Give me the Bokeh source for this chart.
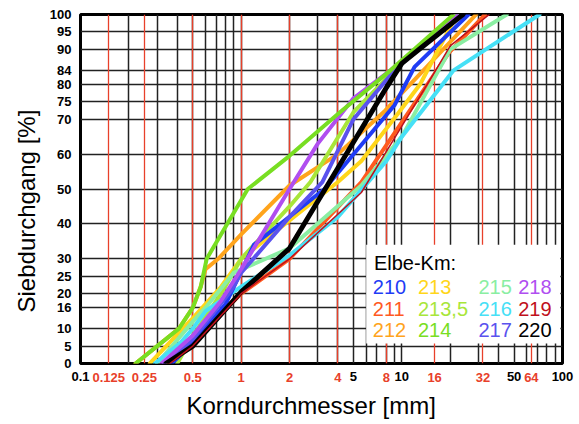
from bokeh.plotting import figure
from bokeh.models import (FixedTicker, Grid, BoxAnnotation, Label, LogAxis, Title,
                          AllLabels, BasicTickFormatter)
from bokeh.embed import file_html
from bokeh.resources import INLINE

# ---------------- data ----------------
y_ticks = [0, 5, 10, 16, 20, 25, 30, 40, 50, 60, 70, 75, 80, 84, 90, 95, 100]
x_black_labels = [0.1, 5, 10, 50, 100]
x_black_grid = [0.2, 0.3, 0.4, 0.5, 0.6, 0.7, 0.8, 0.9, 1, 2, 3, 4, 5, 6, 7, 8, 9,
                10, 20, 30, 40, 50, 60, 70, 80, 90]
x_red_grid = [0.15, 0.25, 0.5, 1, 2, 4, 8, 16, 32, 64]
x_red_labels = ["0.125", "0.25", "0.5", "1", "2", "4", "8", "16", "32", "64"]

names = ["210", "211", "212", "213", "213,5", "214", "215", "216", "217", "218", "219", "220"]
colors = ["#1f3cf5", "#ff5a1f", "#ffa41c", "#ffd61a", "#a8e63a", "#78de22",
          "#8aeea2", "#46e0f6", "#5a52ee", "#b04ef0", "#c0101c", "#000000"]

x210 = [0.37, 0.5, 0.8, 1.2, 3.3, 9, 12, 26]
y210 = [0, 6, 17, 34, 50, 74, 85, 100]
x211 = [0.35, 0.5, 1, 2, 5.6, 8.7, 19.6, 33]
y211 = [0, 6, 20, 30, 52, 65, 89, 100]
x212 = [0.22, 0.41, 0.5, 0.56, 0.6, 0.72, 1, 2, 4, 7.9, 13, 29]
y212 = [0, 10, 16, 22, 27, 30, 37, 51, 60, 72.5, 83, 100]
x213 = [0.27, 0.5, 0.75, 1, 2, 4, 5.6, 9.6, 13, 22]
y213 = [0, 13, 22, 30, 41, 52, 58, 72, 80, 100]
x2135 = [0.4, 0.5, 0.75, 1, 2, 2.7, 5, 9, 22]
y2135 = [0, 8, 20, 30, 45, 52, 72, 84, 100]
x214 = [0.22, 0.41, 0.5, 0.56, 0.61, 1.1, 2, 4, 8.5, 21]
y214 = [0, 10, 16, 22, 30, 50, 59.5, 71.5, 84, 100]
x215 = [0.3, 0.5, 0.6, 0.9, 2, 5.6, 10, 20, 45]
y215 = [0, 12, 16, 26, 33, 51, 65, 90, 100]
x216 = [0.29, 0.42, 0.5, 0.6, 1, 2, 4, 8, 10, 21, 72]
y216 = [0, 6, 10, 15, 22, 31, 42, 58, 65, 84, 100]
x217 = [0.33, 0.5, 0.87, 1, 2, 3.2, 5, 9, 22]
y217 = [0, 7, 21, 26, 42, 52, 70, 84, 100]
x218 = [0.32, 0.5, 0.75, 1, 2, 3, 5, 8.5, 22]
y218 = [0, 8, 18, 27, 50, 63, 76, 84, 100]
x219 = [0.36, 0.5, 1, 2, 5.6, 10, 16, 20, 35]
y219 = [0, 5, 20, 30, 49, 68, 83.5, 91, 100]
x220 = [0.34, 0.5, 1, 2, 4, 8, 10, 13.3, 24]
y220 = [0, 5, 20.5, 33, 56, 79, 86, 90.6, 100]

series = {
    "210": (x210, y210), "211": (x211, y211), "212": (x212, y212),
    "213": (x213, y213), "213,5": (x2135, y2135), "214": (x214, y214),
    "215": (x215, y215), "216": (x216, y216), "217": (x217, y217),
    "218": (x218, y218), "219": (x219, y219), "220": (x220, y220),
}

# ---------------- figure ----------------
FONT = "Liberation Sans"
RED = "#e8402a"
GRID = "#222222"

p = figure(width=579, height=424, x_axis_type="log", x_range=(0.1, 100), y_range=(0, 100),
           output_backend="svg", toolbar_location=None,
           min_border_left=80, min_border_right=17, min_border_top=14, min_border_bottom=61)
p.background_fill_color = "white"
p.border_fill_color = "white"
p.outline_line_color = "black"
p.outline_line_width = 3

p.xgrid.visible = False
p.ygrid.ticker = FixedTicker(ticks=y_ticks)
p.ygrid.grid_line_color = GRID
p.ygrid.grid_line_width = 1.5
p.ygrid.grid_line_alpha = 1

gb = Grid(dimension=0, ticker=FixedTicker(ticks=x_black_grid), grid_line_color=GRID,
          grid_line_width=1.5)
gr = Grid(dimension=0, ticker=FixedTicker(ticks=x_red_grid), grid_line_color=RED,
          grid_line_width=1.3)
p.add_layout(gb)
p.add_layout(gr)


def style_axis(ax, color):
    ax.axis_line_color = None
    ax.major_tick_line_color = None
    ax.minor_tick_line_color = None
    ax.major_tick_out = 0
    ax.major_tick_in = 0
    ax.major_label_text_font = FONT
    ax.major_label_text_font_style = "bold"
    ax.major_label_text_font_size = "13px"
    ax.major_label_text_color = color
    ax.major_label_policy = AllLabels()


style_axis(p.xaxis[0], "black")
style_axis(p.yaxis[0], "black")

p.yaxis.ticker = FixedTicker(ticks=y_ticks)
p.yaxis.major_label_standoff = 9
p.xaxis.ticker = FixedTicker(ticks=x_black_labels)
p.xaxis.formatter = BasicTickFormatter()
p.xaxis.major_label_overrides = {v: ("%g" % v) for v in x_black_labels}
p.xaxis.major_label_standoff = 8

# second (red) x axis sharing the same row of labels
red_axis = LogAxis(ticker=FixedTicker(ticks=x_red_grid),
                   major_label_overrides={v: t for v, t in zip(x_red_grid, x_red_labels)})
style_axis(red_axis, RED)
red_axis.major_label_standoff = -11
p.add_layout(red_axis, "below")

# curves
order = ["211", "212", "213", "213,5", "215", "216", "210", "217", "218", "214", "220", "219"]
for nm in order:
    xs, ys = series[nm]
    c = colors[names.index(nm)]
    w = 5 if nm == "220" else (1.5 if nm == "219" else 4)
    p.line(xs, ys, line_color=c, line_width=w, line_join="round", line_cap="round")

# legend box
p.add_layout(BoxAnnotation(left=6.0, right=97, bottom=5.7, top=34, fill_color="white",
                           fill_alpha=1, line_color=None))
p.add_layout(Label(x=6.7, y=28.7, text="Elbe-Km:", text_font=FONT, text_font_size="20px",
                   text_baseline="middle", text_color="black"))
col_x = [6.6, 12.6, 30, 53]
row_y = [21.8, 15.6, 9.6]
for i, nm in enumerate(names):
    col, row = divmod(i, 3)
    p.add_layout(Label(x=col_x[col], y=row_y[row], text=nm, text_font=FONT,
                       text_font_size="20px", text_baseline="middle",
                       text_color=colors[i]))

# axis titles
tx = Title(text="Korndurchmesser [mm]", align="left", offset=106, standoff=10,
           text_font=FONT, text_font_size="24px", text_font_style="normal",
           text_color="black")
p.add_layout(tx, "below")
ty = Title(text="Siebdurchgang [%]", align="left", offset=51, standoff=14,
           text_font=FONT, text_font_size="24px", text_font_style="normal",
           text_color="black")
p.add_layout(ty, "left")

open("out.html", "w").write(file_html(p, INLINE))
